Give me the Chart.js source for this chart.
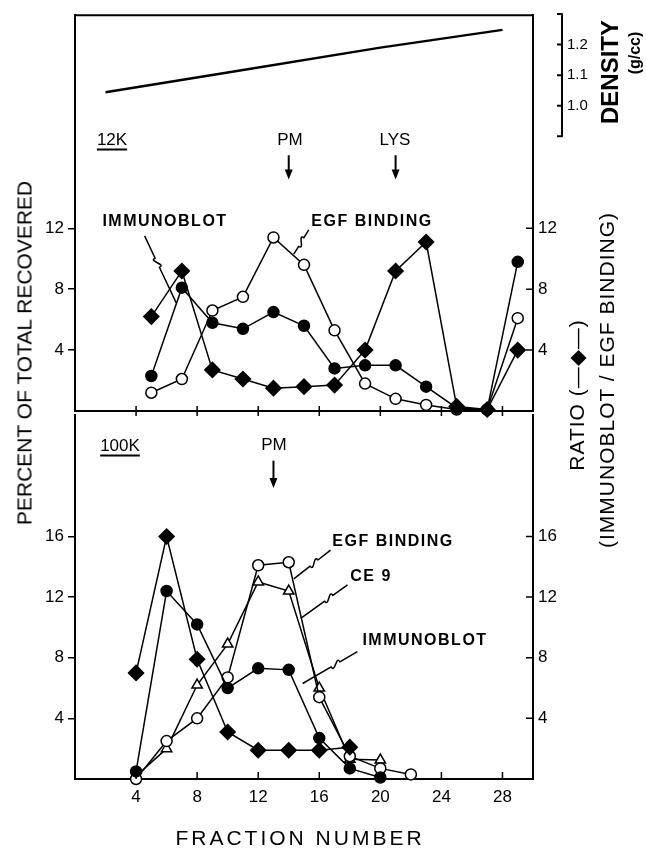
<!DOCTYPE html>
<html>
<head>
<meta charset="utf-8">
<script src="https://cdn.jsdelivr.net/npm/chart.js@4"></script>
<style>
  html, body { margin: 0; padding: 0; background: #fff; }
  #fig { position: relative; width: 646px; height: 850px; overflow: hidden; font-family: 'Liberation Sans', Arial, sans-serif; color: #000; }
  canvas { position: absolute; left: 0; }
  .lbl { position: absolute; transform: translate(-50%, -50%); line-height: 1; white-space: nowrap; }
  .tag { font-size: 17px; }
  .ul { text-decoration: underline; text-decoration-thickness: 2px; text-underline-offset: 4px; }
  .note { font-weight: bold; font-size: 16px; letter-spacing: 1.5px; }
  .title { font-size: 21px; letter-spacing: 1px; }
  .vert { transform: translate(-50%, -50%) rotate(-90deg); }
</style>
</head>
<body>
<div id="fig">
  <canvas id="chart12k" width="646" height="430" style="top:0"></canvas>
  <canvas id="chart100k" width="646" height="450" style="top:400px"></canvas>

  <div class="lbl tag ul" style="left:112px;top:139px">12K</div>
  <div class="lbl tag" style="left:290px;top:139px">PM</div>
  <div class="lbl tag" style="left:395px;top:139px">LYS</div>
  <div class="lbl note" style="left:165px;top:221px">IMMUNOBLOT</div>
  <div class="lbl note" style="left:372px;top:221px">EGF BINDING</div>

  <div class="lbl tag ul" style="left:120px;top:445px">100K</div>
  <div class="lbl tag" style="left:274px;top:444px">PM</div>
  <div class="lbl note" style="left:393px;top:541px">EGF BINDING</div>
  <div class="lbl note" style="left:371px;top:576px">CE 9</div>
  <div class="lbl note" style="left:425px;top:640px">IMMUNOBLOT</div>

  <div class="lbl title vert" style="left:24px;top:353px;letter-spacing:0">PERCENT OF TOTAL RECOVERED</div>
  <div class="lbl title vert" style="left:576px;top:395px">RATIO (—◆—)</div>
  <div class="lbl title vert" style="left:606px;top:380px">(IMMUNOBLOT / EGF BINDING)</div>
  <div class="lbl vert" style="left:610px;top:72px;font-weight:bold;font-size:24px">DENSITY</div>
  <div class="lbl vert" style="left:635px;top:53px;font-weight:bold;font-size:16px">(g/cc)</div>
  <div class="lbl title" style="left:300px;top:837px;letter-spacing:3px">FRACTION NUMBER</div>
</div>

<script>
// ---- data ----
const xTickValues = [4, 8, 12, 16, 20, 24, 28];
const ticks12k = [4, 8, 12];
const ticks100k = [4, 8, 12, 16];
const densityTicks = [1.0, 1.1, 1.2];

// 12K pellet
const fractions12k = [5, 7, 9, 11, 13, 15, 17, 19, 21, 23, 25, 27, 29];
const immunoblot12k = [2.3, 8.1, 5.8, 5.4, 6.5, 5.6, 2.8, 3.0, 3.0, 1.6, 0.2, 0.1, 9.8];
const egfBinding12k = [1.2, 2.1, 6.6, 7.5, 11.4, 9.6, 5.3, 1.8, 0.8, 0.4, 0.1, 0.1, 6.1];
const ratio12k = [6.2, 9.2, 2.7, 2.1, 1.5, 1.6, 1.7, 4.0, 9.2, 11.1, 0.3, 0.1, 4.0];

// density gradient (g/cc)
const densityFractions = [2, 10, 20, 28];
const densityValues = [1.044, 1.109, 1.19, 1.248];

// 100K pellet
const fractions100k = [4, 6, 8, 10, 12, 14, 16, 18, 20, 22];
const immunoblot100k = [0.5, 12.4, 10.2, 6.0, 7.3, 7.2, 2.7, 0.7, 0.1];
const egfBinding100k = [0, 2.5, 4.0, 6.7, 14.1, 14.3, 5.4, 1.5, 0.7, 0.3];
const ce9_100k = [0.2, 2.0, 6.2, 8.9, 13.0, 12.4, 6.0, 1.3, 1.25];
const ratio100k = [7.0, 16.0, 7.9, 3.1, 1.9, 1.9, 1.9, 2.1];

// annotation anchors in data units [fraction, value]
const arrows12k = [{ x: 14, from: 16.8, to: 15.2 }, { x: 21, from: 16.8, to: 15.2 }];
const arrows100k = [{ x: 13, from: 21.0, to: 19.2 }];
const leaders12k = [
    { from: [4.56, 11.5], to: [6.63, 7.1], t: 0.4 },   // IMMUNOBLOT
    { from: [15.31, 11.9], to: [14.33, 10.3], t: 0.5 }, // EGF BINDING
];
const leaders100k = [
    { from: [16.74, 15.1], to: [14.33, 13.2], t: 0.45 }, // EGF BINDING
    { from: [17.85, 12.8], to: [14.78, 10.6], t: 0.4 },  // CE 9
    { from: [18.5, 8.4], to: [14.91, 6.3], t: 0.4 },     // IMMUNOBLOT
];

Chart.defaults.font.family = "'Liberation Sans', Arial, sans-serif";
Chart.defaults.color = '#000';

const markers = {
    filled: { pointStyle: 'circle', pointRadius: 5.5, pointBackgroundColor: '#000' },
    open: { pointStyle: 'circle', pointRadius: 5.5, pointBackgroundColor: '#fff' },
    triangle: { pointStyle: 'triangle', pointRadius: 6, pointBackgroundColor: '#fff' },
    diamond: { pointStyle: 'rectRot', pointRadius: 7.5, pointBackgroundColor: '#000' },
};

function series(label, xs, ys, marker, axis) {
    return Object.assign({
        label,
        data: ys.map((y, i) => ({ x: xs[i], y })),
        yAxisID: axis,
        borderColor: '#000',
        borderWidth: 1.5,
        pointBorderColor: '#000',
        pointBorderWidth: 1.5,
        tension: 0,
        fill: false,
        clip: false,
    }, marker);
}

function fixedTicks(values) {
    return (scale) => { scale.ticks = values.map((v) => ({ value: v })); };
}

// frame, inward tick marks, arrows, leader lines and the density bracket
function makeDecor(cfg) {
    return {
        id: 'decor',
        afterDatasetsDraw(chart) {
            const { ctx, chartArea: a, scales } = chart;
            const x = scales.x;
            ctx.save();
            ctx.strokeStyle = '#000';
            ctx.fillStyle = '#000';

            ctx.lineWidth = 2;
            ctx.beginPath();
            cfg.frame.forEach((side) => {
                if (side === 'top') { ctx.moveTo(a.left - 1, a.top); ctx.lineTo(a.right + 1, a.top); }
                if (side === 'bottom') { ctx.moveTo(a.left - 1, a.bottom); ctx.lineTo(a.right + 1, a.bottom); }
            });
            ctx.stroke();

            // x tick marks
            ctx.lineWidth = 1.5;
            ctx.beginPath();
            xTickValues.forEach((v) => {
                const px = x.getPixelForValue(v);
                ctx.moveTo(px, a.bottom - cfg.xTickUp);
                ctx.lineTo(px, a.bottom + cfg.xTickDown);
            });
            // right axis tick marks, pointing inward
            const r = scales[cfg.rightAxis];
            cfg.rightTicks.forEach((v) => {
                const py = r.getPixelForValue(v);
                ctx.moveTo(a.right - 7, py);
                ctx.lineTo(a.right, py);
            });
            ctx.stroke();

            // arrows
            const yl = scales[cfg.leftAxis];
            cfg.arrows.forEach((ar) => {
                const px = x.getPixelForValue(ar.x);
                const y0 = yl.getPixelForValue(ar.from);
                const y1 = yl.getPixelForValue(ar.to);
                ctx.lineWidth = 2;
                ctx.beginPath();
                ctx.moveTo(px, y0);
                ctx.lineTo(px, y1 - 8);
                ctx.stroke();
                ctx.beginPath();
                ctx.moveTo(px - 4, y1 - 10);
                ctx.lineTo(px + 4, y1 - 10);
                ctx.lineTo(px, y1);
                ctx.closePath();
                ctx.fill();
            });

            // leader lines with a small squiggle
            ctx.lineWidth = 1.5;
            ctx.lineJoin = 'round';
            cfg.leaders.forEach((ld) => {
                const p0 = { x: x.getPixelForValue(ld.from[0]), y: yl.getPixelForValue(ld.from[1]) };
                const p1 = { x: x.getPixelForValue(ld.to[0]), y: yl.getPixelForValue(ld.to[1]) };
                const dx = p1.x - p0.x, dy = p1.y - p0.y, len = Math.hypot(dx, dy);
                const ux = dx / len, uy = dy / len, nx = -uy, ny = ux;
                const mx = p0.x + dx * ld.t, my = p0.y + dy * ld.t;
                ctx.beginPath();
                ctx.moveTo(p0.x, p0.y);
                ctx.lineTo(mx - ux * 5, my - uy * 5);
                ctx.bezierCurveTo(mx - ux * 5 + nx * 8, my - uy * 5 + ny * 8,
                    mx + ux * 5 - nx * 8, my + uy * 5 - ny * 8,
                    mx + ux * 5, my + uy * 5);
                ctx.lineTo(p1.x, p1.y);
                ctx.stroke();
            });

            // density bracket
            if (cfg.density) {
                const d = scales.yD;
                const bx = d.left;
                const top = d.getPixelForValue(1.3), bot = d.getPixelForValue(0.9);
                ctx.lineWidth = 2;
                ctx.beginPath();
                ctx.moveTo(bx - 5, top);
                ctx.lineTo(bx, top);
                ctx.lineTo(bx, bot);
                ctx.lineTo(bx - 5, bot);
                densityTicks.forEach((v) => {
                    const py = d.getPixelForValue(v);
                    ctx.moveTo(bx - 5, py);
                    ctx.lineTo(bx, py);
                });
                ctx.stroke();
            }
            ctx.restore();
        },
    };
}

const leftAxisBase = {
    type: 'linear',
    position: 'left',
    min: 0,
    border: { display: true, color: '#000', width: 2 },
    grid: { drawOnChartArea: false, drawTicks: true, tickLength: 7, color: '#000', lineWidth: 1.5 },
    ticks: { font: { size: 17 }, padding: 4 },
    afterFit: (s) => { s.width = 75; },
};
const rightAxisBase = {
    type: 'linear',
    position: 'right',
    min: 0,
    border: { display: true, color: '#000', width: 2 },
    grid: { display: false, drawTicks: false },
    ticks: { font: { size: 17 }, padding: 5 },
};

// top panel: 12K
new Chart(document.getElementById('chart12k'), {
    type: 'line',
    data: {
        datasets: [
            series('Ratio', fractions12k, ratio12k, markers.diamond, 'yR'),
            series('Immunoblot', fractions12k, immunoblot12k, markers.filled, 'yL'),
            series('EGF binding', fractions12k, egfBinding12k, markers.open, 'yL'),
            Object.assign(series('Density', densityFractions, densityValues, { pointRadius: 0 }, 'yD'), { borderWidth: 2.5 }),
        ],
    },
    options: {
        responsive: false,
        animation: false,
        events: [],
        layout: { padding: { top: 10, bottom: 19, left: 0, right: 0 } },
        plugins: { legend: { display: false }, tooltip: { enabled: false } },
        scales: {
            x: { type: 'linear', min: 0, max: 30, display: false },
            yL: Object.assign({}, leftAxisBase, { max: 26, afterBuildTicks: fixedTicks(ticks12k) }),
            yR: Object.assign({}, rightAxisBase, { max: 26, afterBuildTicks: fixedTicks(ticks12k), afterFit: (s) => { s.width = 29; } }),
            yD: {
                type: 'linear',
                position: 'right',
                min: 0.0025,
                max: 1.296,
                border: { display: false },
                grid: { display: false, drawTicks: false },
                ticks: { font: { size: 15 }, padding: 5, callback: (v) => v.toFixed(1) },
                afterBuildTicks: fixedTicks(densityTicks),
                afterFit: (s) => { s.width = 84; },
            },
        },
    },
    plugins: [makeDecor({
        frame: ['top', 'bottom'], xTickUp: 5, xTickDown: 5,
        rightAxis: 'yR', rightTicks: ticks12k, leftAxis: 'yL',
        arrows: arrows12k, leaders: leaders12k, density: true,
    })],
});

// bottom panel: 100K
new Chart(document.getElementById('chart100k'), {
    type: 'line',
    data: {
        datasets: [
            series('Ratio', fractions100k, ratio100k, markers.diamond, 'yR'),
            series('Immunoblot', fractions100k, immunoblot100k, markers.filled, 'yL'),
            series('EGF binding', fractions100k, egfBinding100k, markers.open, 'yL'),
            series('CE 9', fractions100k, ce9_100k, markers.triangle, 'yL'),
        ],
    },
    options: {
        responsive: false,
        animation: false,
        events: [],
        layout: { padding: { top: 11, bottom: 0, left: 0, right: 0 } },
        plugins: { legend: { display: false }, tooltip: { enabled: false } },
        scales: {
            x: {
                type: 'linear',
                min: 0,
                max: 30,
                border: { display: true, color: '#000', width: 2 },
                grid: { display: false, drawTicks: false },
                ticks: { font: { size: 17 }, padding: 8 },
                afterBuildTicks: fixedTicks(xTickValues),
                afterFit: (s) => { s.height = 71; },
            },
            yL: Object.assign({}, leftAxisBase, { max: 24, afterBuildTicks: fixedTicks(ticks100k) }),
            yR: Object.assign({}, rightAxisBase, { max: 24, afterBuildTicks: fixedTicks(ticks100k), afterFit: (s) => { s.width = 113; } }),
        },
    },
    plugins: [makeDecor({
        frame: [], xTickUp: 7, xTickDown: 0,
        rightAxis: 'yR', rightTicks: ticks100k, leftAxis: 'yL',
        arrows: arrows100k, leaders: leaders100k, density: false,
    })],
});
</script>
</body>
</html>
